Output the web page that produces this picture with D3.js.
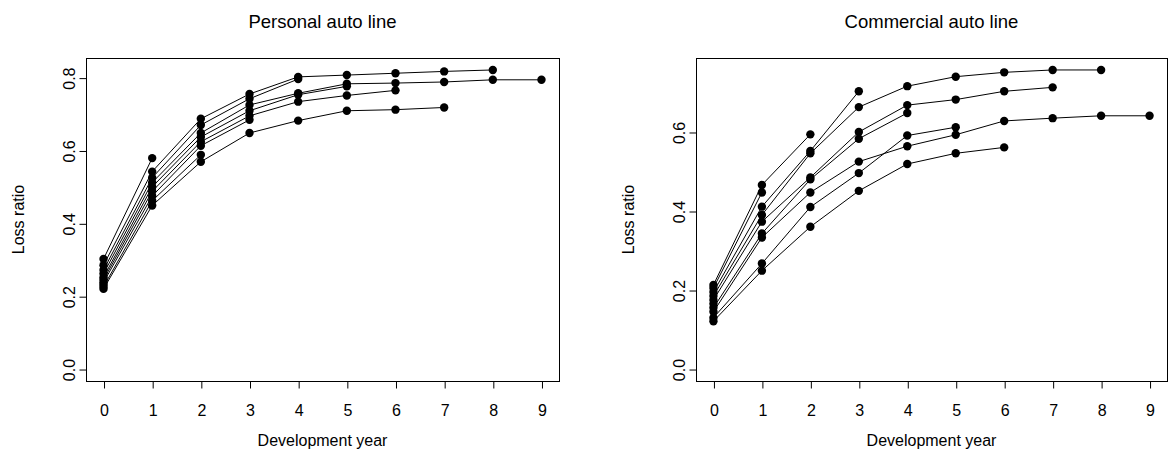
<!DOCTYPE html>
<html>
<meta charset="utf-8">
<script src="https://d3js.org/d3.v7.min.js"></script>
<style>
  body { margin: 0; background: #fff; }
  svg { display: block; font-family: "Liberation Sans", Arial, Helvetica, sans-serif; }
</style>
<body>
<script>
// development years (x axis) and tick labels
const devYears = [0, 1, 2, 3, 4, 5, 6, 7, 8, 9];
const personalYTicks = [0, 0.2, 0.4, 0.6, 0.8];
const commercialYTicks = [0, 0.2, 0.4, 0.6];

// loss ratio by accident year (one row per accident year, dev 0 onward)
const personalLR = [
  [0.262, 0.512, 0.648, 0.725, 0.757, 0.783, 0.785, 0.788, 0.794, 0.794],
  [0.285, 0.542, 0.687, 0.755, 0.802, 0.807, 0.812, 0.817, 0.821],
  [0.220, 0.449, 0.569, 0.648, 0.682, 0.709, 0.712, 0.718],
  [0.245, 0.488, 0.624, 0.695, 0.734, 0.751, 0.765],
  [0.252, 0.500, 0.637, 0.709, 0.753, 0.776],
  [0.272, 0.525, 0.670, 0.742, 0.796],
  [0.238, 0.475, 0.613, 0.684],
  [0.226, 0.462, 0.588],
  [0.302, 0.579],
  [0.232]
];

const commercialLR = [
  [0.145, 0.333, 0.447, 0.525, 0.564, 0.593, 0.628, 0.635, 0.641, 0.641],
  [0.185, 0.390, 0.546, 0.663, 0.716, 0.740, 0.751, 0.757, 0.757],
  [0.175, 0.373, 0.485, 0.600, 0.668, 0.682, 0.703, 0.713],
  [0.121, 0.249, 0.360, 0.451, 0.519, 0.546, 0.561],
  [0.130, 0.267, 0.410, 0.496, 0.591, 0.612],
  [0.155, 0.343, 0.480, 0.583, 0.648],
  [0.195, 0.411, 0.552, 0.703],
  [0.213, 0.466, 0.594],
  [0.205, 0.447],
  [0.165]
];

const W = 1168, H = 459;
const FS = 16;
const svg = d3.select('body').append('svg')
  .attr('width', W)
  .attr('height', H);

// R style axis range: data range padded 4% each side
function rPad(lo, hi) {
  const p = (hi - lo) * 0.04;
  return [lo - p, hi + p];
}

function panel(box, rows, yTicks, title) {
  const x = d3.scaleLinear().domain(rPad(0, 9)).range([box.left, box.right]);
  const yMax = d3.max(rows.flat());
  const y = d3.scaleLinear().domain(rPad(0, yMax)).range([box.bottom, box.top]);

  const g = svg.append('g');

  const line = d3.line()
    .x((d, i) => x(devYears[i]))
    .y(d => y(d));

  g.selectAll('.row').data(rows)
    .enter()
    .append('path')
    .attr('class', 'row')
    .attr('d', line)
    .attr('fill', 'none')
    .attr('stroke', '#000')
    .attr('stroke-width', 1);

  rows.forEach(r => {
    g.selectAll(null).data(r)
      .enter()
      .append('circle')
      .attr('cx', (d, i) => x(devYears[i]))
      .attr('cy', d => y(d))
      .attr('r', 4.2)
      .attr('fill', '#000');
  });

  // box
  g.append('rect')
    .attr('x', box.left + 0.5)
    .attr('y', box.top + 0.5)
    .attr('width', box.right - box.left)
    .attr('height', box.bottom - box.top)
    .attr('fill', 'none')
    .attr('stroke', '#000');

  const xAxis = d3.axisBottom(x)
    .tickValues(devYears)
    .tickFormat(d3.format('d'))
    .tickSizeOuter(0)
    .tickSize(7)
    .tickPadding(16);

  const gx = g.append('g')
    .attr('transform', `translate(0.5, ${box.bottom + 0.5})`)
    .call(xAxis);
  gx.select('.domain').remove();
  gx.selectAll('text').attr('font-size', FS).attr('font-family', null).attr('fill', '#000');

  const yAxis = d3.axisLeft(y)
    .tickValues(yTicks)
    .tickFormat(d3.format('.1f'))
    .tickSizeOuter(0)
    .tickSize(7);

  const gy = g.append('g')
    .attr('transform', `translate(${box.left + 0.5}, 0.5)`)
    .call(yAxis);
  gy.select('.domain').remove();
  gy.selectAll('text')
    .attr('font-size', FS)
    .attr('font-family', null)
    .attr('fill', '#000')
    .attr('x', 0)
    .attr('dy', 0)
    .attr('text-anchor', 'middle')
    .attr('transform', 'translate(-12, 0) rotate(-90)');

  const cx = (box.left + box.right) / 2;

  svg.append('text')
    .attr('x', cx)
    .attr('y', 28)
    .attr('text-anchor', 'middle')
    .attr('font-size', 18.5)
    .text(title);

  svg.append('text')
    .attr('x', cx)
    .attr('y', 446)
    .attr('text-anchor', 'middle')
    .attr('font-size', FS)
    .text('Development year');

  svg.append('text')
    .attr('transform', `translate(${box.left - 62}, ${(box.top + box.bottom) / 2}) rotate(-90)`)
    .attr('text-anchor', 'middle')
    .attr('font-size', FS)
    .text('Loss ratio');
}

panel({ left: 86, right: 559, top: 58, bottom: 381 }, personalLR, personalYTicks, 'Personal auto line');
panel({ left: 696, right: 1167, top: 58, bottom: 381 }, commercialLR, commercialYTicks, 'Commercial auto line');
</script>
</body>
</html>
